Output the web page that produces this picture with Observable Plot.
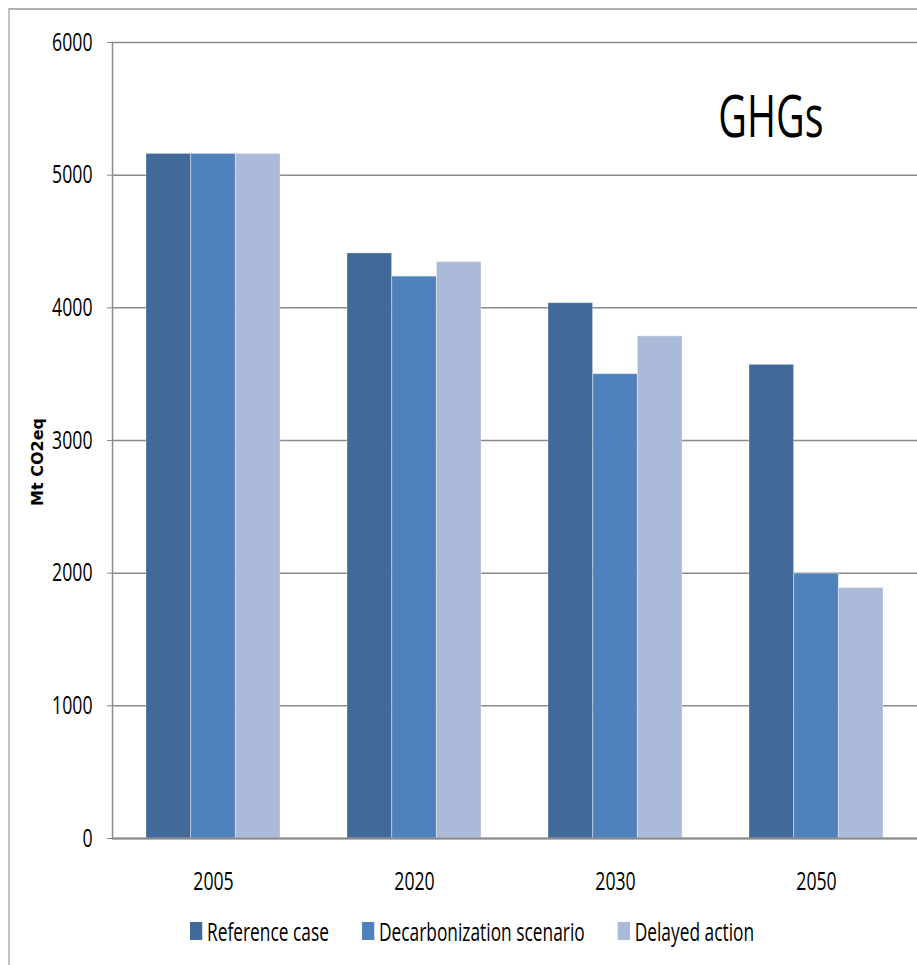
<!DOCTYPE html>
<html><head><meta charset="utf-8">
<script src="https://cdn.jsdelivr.net/npm/d3@7"></script>
<script src="https://cdn.jsdelivr.net/npm/@observablehq/plot@0.6"></script>
<style>
body{margin:0;background:#fff;font-family:"Open Sans",sans-serif;}
#wrap{position:relative;width:917px;height:965px;overflow:hidden;}
#chart svg{display:block;}
#border{position:absolute;left:8px;top:8px;width:2000px;height:2000px;border-left:2px solid #c4c4c4;border-top:2px solid #b0b0b0;pointer-events:none;}
#legend{position:absolute;left:190px;top:914px;display:flex;align-items:center;font-size:25.5px;color:#000;white-space:nowrap;transform-origin:0 50%;}
#ylabel{position:absolute;left:38px;top:462px;transform:translate(-50%,-50%) rotate(-90deg);font-family:"DejaVu Sans",sans-serif;font-weight:bold;font-size:16px;white-space:nowrap;color:#000;line-height:1;}
.item{display:flex;align-items:center;}
.sw{height:18px;}
</style></head><body>
<div id="wrap"><div id="chart"></div><div id="ylabel"></div><div id="legend"></div><div id="border"></div></div>
<script>
const years = ["2005", "2020", "2030", "2050"];
const seriesNames = ["Reference case", "Decarbonization scenario", "Delayed action"];
const referenceCase = [5160, 4410, 4035, 3570];
const decarbonization = [5160, 4235, 3500, 1995];
const delayedAction = [5160, 4345, 3785, 1888];
const yTicks = [0, 1000, 2000, 3000, 4000, 5000, 6000];
const colors = ["#416a9b", "#4f81bd", "#abbad8"];
const title = "GHGs";
const yLabel = "Mt CO2eq";

const seriesValues = [referenceCase, decarbonization, delayedAction];
const rows = [];
seriesNames.forEach((s, i) => years.forEach((y, j) => rows.push({year: y, series: s, value: seriesValues[i][j]})));

const S = 0.68; // horizontal squeeze of the condensed lettering
const W = 917, H = 900, ML = 112, MR = 0, MT = 42, MB = 62;
const pInner = 1 / 3, pOuter = 1 / 6;
const step = (W - ML - MR) / (years.length - pInner + 2 * pOuter);
const bw = step * (1 - pInner);
const third = bw / seriesNames.length;
const grid = "#8a8a8a";
const font = '"Open Sans",sans-serif';

const bars = seriesNames.map((s, i) => Plot.barY(rows.filter(d => d.series === s), {
  x: "year", y: "value", fill: colors[i],
  insetLeft: i * third, insetRight: (seriesNames.length - 1 - i) * third,
  stroke: "white", strokeOpacity: 0.3, strokeWidth: 1
}));

const chart = Plot.plot({
  width: W, height: H,
  marginLeft: ML, marginRight: MR, marginTop: MT, marginBottom: MB,
  style: {fontFamily: font, background: "transparent", color: "#000"},
  x: {domain: years, paddingInner: pInner, paddingOuter: pOuter, label: null},
  y: {domain: [0, 6000], label: null},
  marks: [
    Plot.gridY(yTicks, {stroke: grid, strokeOpacity: 1, strokeWidth: 1.5}),
    ...bars,
    Plot.ruleY([0], {stroke: grid, strokeWidth: 2}),
    Plot.frame({anchor: "left", stroke: grid, strokeWidth: 1.5}),
    Plot.axisY(yTicks, {tickSize: 5, tickPadding: 15, tickFormat: d => String(d), fontSize: 26, stroke: grid, fill: "#000", label: null}),
    Plot.axisX({tickSize: 0, tickPadding: 33, fontSize: 26, fill: "#000", label: null}),
    Plot.text([title], {frameAnchor: "top-right", textAnchor: "end", lineAnchor: "middle", dx: -94, dy: 76, fontSize: 58, fill: "#000"})
  ]
});
document.getElementById("chart").appendChild(chart);

// condense the lettering horizontally
chart.querySelectorAll("text").forEach(el => {
  const len = el.getComputedTextLength();
  if (len > 0) {
    el.setAttribute("textLength", (len * S).toFixed(2));
    el.setAttribute("lengthAdjust", "spacingAndGlyphs");
  }
});

document.getElementById("ylabel").textContent = yLabel;

const legend = document.getElementById("legend");
legend.style.transform = `scaleX(${S})`;
seriesNames.forEach((s, i) => {
  const it = document.createElement("div"); it.className = "item";
  it.style.marginRight = (33 / S) + "px";
  const sw = document.createElement("div"); sw.className = "sw";
  sw.style.width = (12 / S) + "px"; sw.style.marginRight = (5 / S) + "px";
  sw.style.background = colors[i];
  const tx = document.createElement("span"); tx.textContent = s;
  it.appendChild(sw); it.appendChild(tx); legend.appendChild(it);
});
</script>
</body></html>
